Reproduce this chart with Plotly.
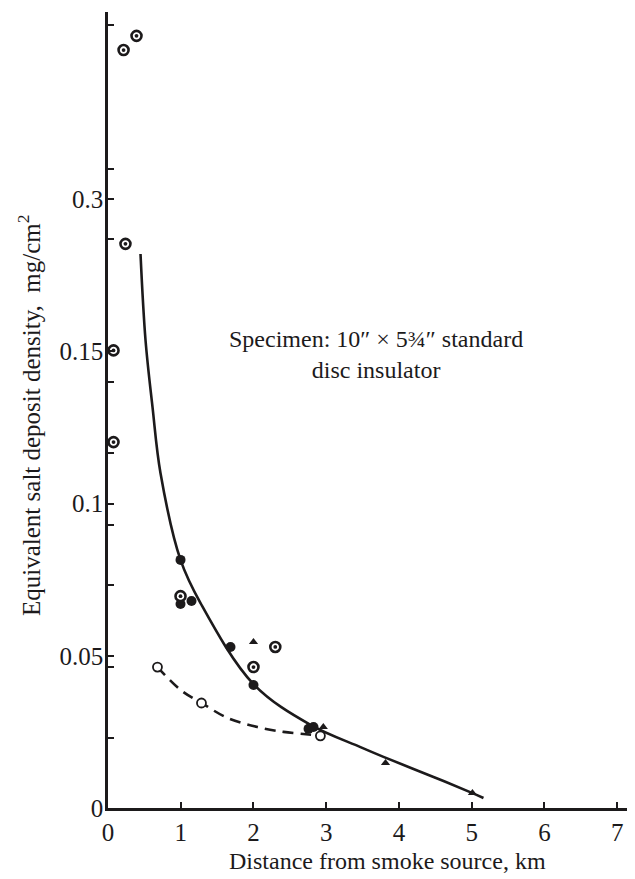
import numpy as np
import plotly.graph_objects as go

# ---- data (km, mg/cm^2) ----
solid_x = [0.447, 0.516, 0.612, 0.722, 0.997, 1.272, 2.0, 2.784, 3.471, 3.787, 4.475, 5.011, 5.162]
solid_y = [0.246, 0.161, 0.1317, 0.110, 0.0815, 0.0673, 0.0407, 0.0273, 0.0200, 0.0168, 0.0102, 0.0049, 0.0033]

dash_x = [0.680, 0.997, 1.285, 1.643, 2.055, 2.412, 2.687, 2.81]
dash_y = [0.0463, 0.0388, 0.0345, 0.0296, 0.0266, 0.0250, 0.0243, 0.0240]

dotted_x = [0.214, 0.392, 0.24, 0.076, 0.076, 0.997, 2.30, 2.0]
dotted_y = [0.447, 0.461, 0.256, 0.151, 0.1202, 0.0696, 0.0529, 0.0463]

filled_x = [0.997, 0.997, 1.148, 1.684, 2.0, 2.757, 2.825]
filled_y = [0.0815, 0.067, 0.068, 0.0529, 0.0404, 0.0260, 0.0266]

tri_x = [2.0, 2.96, 3.815, 5.01]
tri_y = [0.0545, 0.0266, 0.0148, 0.0049]

open_x = [0.680, 1.285, 2.92]
open_y = [0.0463, 0.0345, 0.0237]

y_tick_labels = ["0", "0.05", "0.1", "0.15", "0.3"]
y_tick_values = [0, 0.05, 0.1, 0.15, 0.3]
x_tick_values = [0, 1, 2, 3, 4, 5, 6, 7]

# ---- the printed y scale: labelled ticks equally spaced ----
LAB_POS = [0, 1, 2, 3, 4]


def ypos(v):
    v = np.asarray(v, dtype=float)
    out = np.interp(v, y_tick_values, LAB_POS)
    above = v > y_tick_values[-1]
    out[above] = LAB_POS[-1] + (v[above] - y_tick_values[-1]) / 0.15
    return out


minor_pos = [5.144, 4.198, 3.739, 2.799, 2.333, 1.859, 1.465, 0.926, 0.460]

INK = "#1c1a1b"
FONT = "Liberation Serif"
OFF = 8  # page body margin
W, H = 635 - OFF, 879 - OFF
L, R, T = 108 - OFF, 0, 12 - OFF
PH = 796
B = H - T - PH
PW = W - L - R
YR = [0, PH / 152.2]


def pxx(px):
    return (px - OFF - L) / PW


def pxy(py):
    return (H - B - (py - OFF)) / PH


fig = go.Figure()

fig.add_trace(go.Scatter(x=solid_x, y=ypos(solid_y), mode="lines",
                         line=dict(color=INK, width=2.6, shape="spline", smoothing=1.0),
                         hoverinfo="skip"))
fig.add_trace(go.Scatter(x=dash_x, y=ypos(dash_y), mode="lines",
                         line=dict(color=INK, width=2.6, shape="spline", dash="11px,7px"),
                         hoverinfo="skip"))
fig.add_trace(go.Scatter(x=filled_x, y=ypos(filled_y), mode="markers",
                         marker=dict(symbol="circle", size=10, color=INK, line=dict(width=0))))
fig.add_trace(go.Scatter(x=tri_x, y=ypos(tri_y), mode="markers",
                         marker=dict(symbol="triangle-up", size=8, color=INK, line=dict(width=0))))
fig.add_trace(go.Scatter(x=dotted_x, y=ypos(dotted_y), mode="markers",
                         marker=dict(symbol="circle", size=10, color="white",
                                     line=dict(width=2.6, color=INK))))
fig.add_trace(go.Scatter(x=dotted_x, y=ypos(dotted_y), mode="markers",
                         marker=dict(symbol="circle", size=3.8, color=INK, line=dict(width=0))))
fig.add_trace(go.Scatter(x=open_x, y=ypos(open_y), mode="markers",
                         marker=dict(symbol="circle", size=9, color="white",
                                     line=dict(width=1.8, color=INK))))
# invisible trace so the minor-tick axis is drawn
fig.add_trace(go.Scatter(x=[0], y=[0], yaxis="y2", mode="markers",
                         marker=dict(opacity=0), hoverinfo="skip"))

fig.update_layout(
    width=W, height=H,
    margin=dict(l=L, r=R, t=T, b=B, pad=0),
    paper_bgcolor="white", plot_bgcolor="white",
    showlegend=False,
    font=dict(family=FONT, color=INK, size=25),
    xaxis=dict(range=[0, PW / 72.74], tickvals=x_tick_values,
               ticktext=[str(v) for v in x_tick_values],
               ticks="inside", ticklen=6, tickwidth=1.6, tickcolor=INK,
               showline=True, linewidth=2.6, linecolor=INK,
               showgrid=False, zeroline=False,
               tickfont=dict(family=FONT, size=25, color=INK)),
    yaxis=dict(range=YR, tickvals=LAB_POS, ticktext=y_tick_labels,
               ticks="inside", ticklen=6, tickwidth=1.6, tickcolor=INK,
               showline=True, linewidth=2.6, linecolor=INK,
               showgrid=False, zeroline=False, ticklabelstandoff=-3,
               tickfont=dict(family=FONT, size=25, color=INK)),
    yaxis2=dict(range=YR, overlaying="y", side="left", anchor="x",
                tickvals=minor_pos, showticklabels=False,
                ticks="inside", ticklen=6, tickwidth=1.6, tickcolor=INK,
                showline=False, showgrid=False, zeroline=False),
    annotations=[
        dict(text="Distance from smoke source, km", xref="paper", yref="paper",
             x=pxx(387), y=pxy(861), xanchor="center", yanchor="middle",
             showarrow=False, font=dict(family=FONT, size=24, color=INK)),
        dict(text="Equivalent salt deposit density,  mg/cm<sup>2</sup>", xref="paper", yref="paper",
             x=pxx(29), y=pxy(415), xanchor="center", yanchor="middle", textangle=-90,
             showarrow=False, font=dict(family=FONT, size=25, color=INK)),
        dict(text="Specimen: 10″ × 5¾″ standard<br>disc insulator", xref="paper", yref="paper",
             x=pxx(376), y=pxy(354), xanchor="center", yanchor="middle", align="center",
             showarrow=False, font=dict(family=FONT, size=24, color=INK)),
    ],
)

fig.write_html("out.html")
